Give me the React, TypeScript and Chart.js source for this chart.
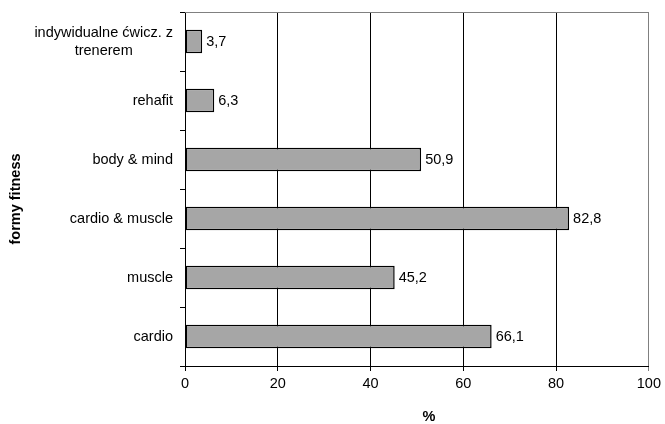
import React, { useEffect, useRef } from "react";
import { Chart, registerables } from "chart.js";

Chart.register(...registerables);

const categories: (string | string[])[] = [
  ["indywidualne ćwicz. z", "trenerem"],
  "rehafit",
  "body & mind",
  "cardio & muscle",
  "muscle",
  "cardio",
];
const values: number[] = [3.7, 6.3, 50.9, 82.8, 45.2, 66.1];
const xTicks: number[] = [0, 20, 40, 60, 80, 100];
const yTitle = "formy fitness";
const xTitle = "%";

const FONT = "Arial, 'Liberation Sans', sans-serif";
const FS = 14.5;

const fmt = (v: number) => v.toFixed(1).replace(".", ",");

const drawPlugin = {
  id: "customText",
  afterDraw(chart: any) {
    const ctx = chart.ctx;
    const area = chart.chartArea;
    const yScale = chart.scales.y;
    ctx.save();
    // top border
    ctx.strokeStyle = "#808080";
    ctx.lineWidth = 1;
    ctx.beginPath();
    ctx.moveTo(area.left, area.top + 0.5);
    ctx.lineTo(area.right, area.top + 0.5);
    ctx.stroke();

    ctx.fillStyle = "#000";
    ctx.font = `${FS}px ${FONT}`;
    // y labels
    const labelRight = area.left - 12;
    categories.forEach((lab, i) => {
      const y = yScale.getPixelForTick(i);
      if (Array.isArray(lab)) {
        const widths = lab.map((l) => ctx.measureText(l).width);
        const maxW = Math.max(...widths);
        const cx = labelRight - maxW / 2;
        const lh = 18;
        const startY = y - ((lab.length - 1) * lh) / 2;
        ctx.textAlign = "center";
        ctx.textBaseline = "middle";
        lab.forEach((l, k) => ctx.fillText(l, cx, startY + k * lh));
      } else {
        ctx.textAlign = "right";
        ctx.textBaseline = "middle";
        ctx.fillText(lab, labelRight, y);
      }
    });
    // value labels
    const meta = chart.getDatasetMeta(0);
    ctx.textAlign = "left";
    ctx.textBaseline = "middle";
    meta.data.forEach((bar: any, i: number) => {
      ctx.fillText(fmt(values[i]), bar.x + 4, bar.y);
    });
    // titles
    ctx.font = `bold ${FS}px ${FONT}`;
    ctx.textAlign = "center";
    ctx.textBaseline = "middle";
    ctx.fillText(xTitle, 429, 417);
    ctx.translate(16, 199);
    ctx.rotate(-Math.PI / 2);
    ctx.fillText(yTitle, 0, 0);
    ctx.restore();
  },
};

export default function App() {
  const ref = useRef<HTMLCanvasElement | null>(null);
  useEffect(() => {
    if (!ref.current) return;
    const chart = new Chart(ref.current, {
      type: "bar",
      data: {
        labels: categories as any,
        datasets: [
          {
            data: values,
            backgroundColor: "#a6a6a6",
            borderColor: "#000",
            borderWidth: 1.5,
            borderSkipped: false,
            barPercentage: 0.4,
            categoryPercentage: 1,
          },
        ],
      },
      options: {
        indexAxis: "y",
        animation: false,
        responsive: false,
        devicePixelRatio: 1,
        layout: { padding: { left: 0, top: 12, right: 14, bottom: 0 } },
        plugins: { legend: { display: false }, tooltip: { enabled: false } },
        scales: {
          x: {
            type: "linear",
            min: 0,
            max: 100,
            afterBuildTicks: (scale: any) => {
              scale.ticks = xTicks.map((v) => ({ value: v }));
            },
            afterFit: (scale: any) => {
              scale.height = 58;
            },
            ticks: {
              color: "#000",
              font: { family: FONT, size: FS },
              padding: 4,
              maxRotation: 0,
              callback: (v: any) => String(v),
            },
            grid: {
              color: (c: any) => (c.tick && c.tick.value === 100 ? "#808080" : "#000"),
              lineWidth: 1,
              tickLength: 5,
              drawTicks: true,
            },
            border: { display: true, color: "#000", width: 1 },
          },
          y: {
            type: "category",
            offset: true,
            afterFit: (scale: any) => {
              scale.width = 185;
            },
            ticks: { display: false },
            grid: {
              offset: true,
              drawOnChartArea: false,
              drawTicks: true,
              tickLength: 5,
              color: "#000",
            },
            border: { display: true, color: "#000", width: 1 },
          },
        },
      },
      plugins: [drawPlugin],
    });
    return () => chart.destroy();
  }, []);
  return (
    <div style={{ position: "absolute", left: 0, top: 0, width: 665, height: 424, background: "#fff" }}>
      <canvas ref={ref} width={665} height={424} style={{ width: 665, height: 424 }} />
    </div>
  );
}
